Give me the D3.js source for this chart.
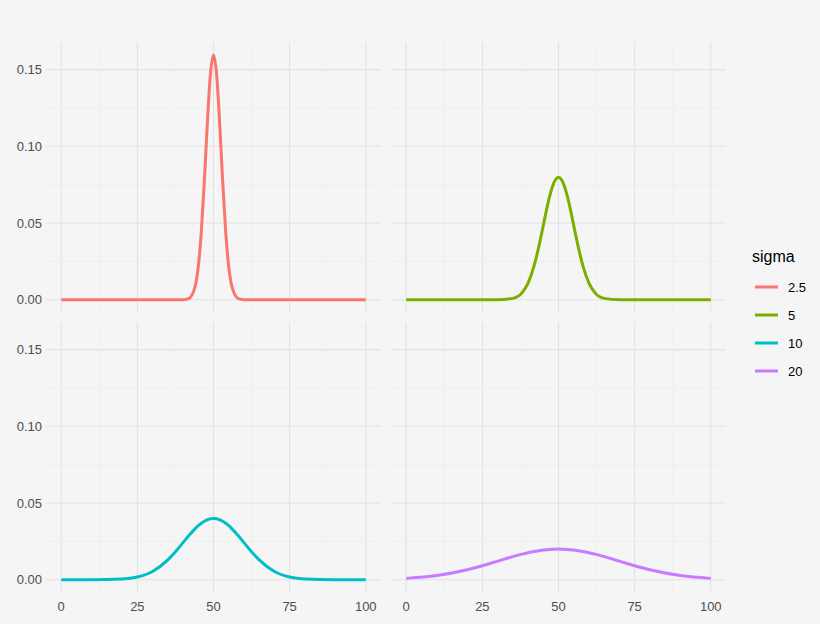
<!DOCTYPE html><html><head><meta charset="utf-8"><script src="https://cdn.jsdelivr.net/npm/d3@7"></script>
<style>body{margin:0;background:#f5f5f5}</style></head><body><svg id="c" width="820" height="624"></svg>
<script>
const sigmas=["2.5","5","10","20"];
const colors=["#F8766D","#7CAE00","#00BFC4","#C77CFF"];
const dist=[50,40,30,25,20,15,12,10,8,6,5,4,3,2,1,0];
const half={
"2.5":[0,0,0,0,0,0,0,0.00005,0.00095,0.00896,0.0216,0.04436,0.07768,0.11587,0.14731,0.15958],
"5":[0,0,0,0,0.00003,0.00089,0.00448,0.0108,0.02218,0.03884,0.04839,0.05793,0.06665,0.07365,0.07821,0.07979],
"10":[0,0.00001,0.00044,0.00175,0.0054,0.01295,0.01942,0.0242,0.02897,0.03332,0.03521,0.03683,0.03814,0.0391,0.0397,0.03989],
"20":[0.00088,0.0027,0.00648,0.00913,0.0121,0.01506,0.01666,0.0176,0.01841,0.01907,0.01933,0.01955,0.01972,0.01985,0.01992,0.01995]};
const xTicks=[0,25,50,75,100], yTicks=[0,0.05,0.1,0.15], yLabels=["0.00","0.05","0.10","0.15"];
const svg=d3.select("#c");
const panels=[[46,42],[391,42],[46,322],[391,322]], W=335, H=270;
sigmas.forEach((s,i)=>{
  const [px,py]=panels[i];
  const x=d3.scaleLinear().domain([-5,105]).range([px,px+W]);
  const y=d3.scaleLinear().domain([-0.008,0.168]).range([py+H,py]);
  const g=svg.append("g");
  [12.5,37.5,62.5,87.5].forEach(v=>g.append("line").attr("x1",x(v)).attr("x2",x(v)).attr("y1",py).attr("y2",py+H).attr("stroke","#ececec").attr("stroke-width",0.6));
  [0.025,0.075,0.125].forEach(v=>g.append("line").attr("y1",y(v)).attr("y2",y(v)).attr("x1",px).attr("x2",px+W).attr("stroke","#ececec").attr("stroke-width",0.6));
  xTicks.forEach(v=>g.append("line").attr("x1",x(v)).attr("x2",x(v)).attr("y1",py).attr("y2",py+H).attr("stroke","#e2e2e2").attr("stroke-width",1.1));
  yTicks.forEach(v=>g.append("line").attr("y1",y(v)).attr("y2",y(v)).attr("x1",px).attr("x2",px+W).attr("stroke","#e2e2e2").attr("stroke-width",1.1));
  const h=half[s];
  const pts=dist.map((d,j)=>[50-d,h[j]]).concat(dist.slice(0,-1).reverse().map((d,j)=>[50+d,h[h.length-2-j]]));
  g.append("path").attr("d",d3.line().x(d=>x(d[0])).y(d=>y(d[1])).curve(d3.curveMonotoneX)(pts))
   .attr("fill","none").attr("stroke",colors[i]).attr("stroke-width",3);
  if(i%2==0) yTicks.forEach((v,k)=>g.append("text").attr("x",px-4).attr("y",y(v)+4.5).attr("text-anchor","end").attr("font-family","Liberation Sans,Arial").attr("font-size",13).attr("fill","#4d4d4d").text(yLabels[k]));
  if(i>=2) xTicks.forEach(v=>g.append("text").attr("x",x(v)).attr("y",py+H+19).attr("text-anchor","middle").attr("font-family","Liberation Sans,Arial").attr("font-size",13).attr("fill","#4d4d4d").text(v));
});
const lg=svg.append("g");
lg.append("text").attr("x",752).attr("y",262).attr("font-family","Liberation Sans,Arial").attr("font-size",16).attr("fill","#000").text("sigma");
sigmas.forEach((s,i)=>{const yy=287+i*28;
  lg.append("line").attr("x1",755).attr("x2",778).attr("y1",yy).attr("y2",yy).attr("stroke",colors[i]).attr("stroke-width",3);
  lg.append("text").attr("x",788).attr("y",yy+4.5).attr("font-family","Liberation Sans,Arial").attr("font-size",13).attr("fill","#000").text(s);});
</script></body></html>
